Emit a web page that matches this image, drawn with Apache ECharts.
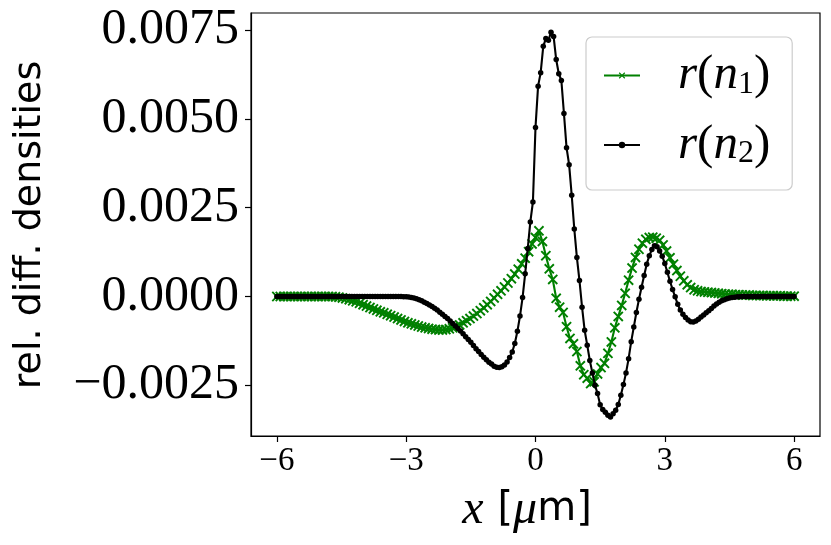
<!DOCTYPE html>
<html lang="en">
<head>
<meta charset="UTF-8">
<title>rel. diff. densities</title>
<script src="https://cdn.jsdelivr.net/npm/echarts@6/dist/echarts.min.js"></script>
<style>
  html, body { margin: 0; padding: 0; background: #fff; }
  #chart { width: 831px; height: 545px; }
</style>
</head>
<body>
<div id="chart"></div>
<script>
// x grid of r(n1) (green crosses)
var xN1 = [
  -6,-5.92,-5.84,-5.76,-5.68,-5.6,-5.52,-5.44,-5.36,-5.28,
  -5.2,-5.12,-5.04,-4.96,-4.88,-4.8,-4.72,-4.64,-4.56,-4.48,
  -4.4,-4.32,-4.24,-4.16,-4.08,-4,-3.92,-3.84,-3.76,-3.68,
  -3.6,-3.52,-3.44,-3.36,-3.28,-3.2,-3.12,-3.04,-2.96,-2.88,
  -2.8,-2.72,-2.64,-2.56,-2.48,-2.4,-2.32,-2.24,-2.16,-2.08,
  -2,-1.92,-1.84,-1.76,-1.68,-1.6,-1.52,-1.44,-1.36,-1.28,
  -1.2,-1.12,-1.04,-0.96,-0.88,-0.8,-0.72,-0.64,-0.56,-0.48,
  -0.4,-0.32,-0.24,-0.16,-0.08,0,0.08,0.16,0.24,0.32,
  0.4,0.48,0.56,0.64,0.72,0.8,0.88,0.96,1.04,1.12,
  1.2,1.28,1.36,1.44,1.52,1.6,1.68,1.76,1.84,1.92,
  2,2.08,2.16,2.24,2.32,2.4,2.48,2.56,2.64,2.72,
  2.8,2.88,2.96,3.04,3.12,3.2,3.28,3.36,3.44,3.52,
  3.6,3.68,3.76,3.84,3.92,4,4.08,4.16,4.24,4.32,
  4.4,4.48,4.56,4.64,4.72,4.8,4.88,4.96,5.04,5.12,
  5.2,5.28,5.36,5.44,5.52,5.6,5.68,5.76,5.84,5.92,
  6
];
var rN1 = [
  0,0,0,0,0,0,0,0,0,0,
  0,0,0,0,0,0,0,-0.1e-4,-0.2e-4,-0.4e-4,
  -0.6e-4,-0.9e-4,-1.2e-4,-1.5e-4,-1.9e-4,-2.3e-4,-2.7e-4,-3.1e-4,-3.5e-4,-3.9e-4,
  -4.3e-4,-4.6e-4,-5.0e-4,-5.4e-4,-5.8e-4,-6.2e-4,-6.6e-4,-7.0e-4,-7.4e-4,-7.7e-4,
  -8.0e-4,-8.3e-4,-8.6e-4,-8.8e-4,-9.0e-4,-9.2e-4,-9.3e-4,-9.4e-4,-9.4e-4,-9.3e-4,
  -9.1e-4,-8.8e-4,-8.4e-4,-8.0e-4,-7.4e-4,-6.8e-4,-6.2e-4,-5.5e-4,-4.8e-4,-4.0e-4,
  -3.2e-4,-2.3e-4,-1.4e-4,-0.4e-4,0.6e-4,1.6e-4,2.7e-4,3.8e-4,5.0e-4,6.3e-4,
  7.7e-4,9.2e-4,10.8e-4,12.6e-4,14.8e-4,16.6e-4,18.5e-4,15.5e-4,11.5e-4,7.8e-4,
  4.8e-4,-0.5e-4,-3.0e-4,-4.5e-4,-8.5e-4,-11.8e-4,-13.3e-4,-15.5e-4,-19.5e-4,-22.0e-4,
  -23.0e-4,-24.5e-4,-24.0e-4,-21.8e-4,-20.0e-4,-18.8e-4,-16.0e-4,-12.8e-4,-8.8e-4,-5.6e-4,
  -2.5e-4,0.9e-4,4.6e-4,8.0e-4,11.0e-4,13.3e-4,15.0e-4,16.1e-4,16.6e-4,16.7e-4,
  16.4e-4,15.8e-4,14.5e-4,12.8e-4,10.9e-4,9.1e-4,7.3e-4,5.7e-4,4.4e-4,3.3e-4,
  2.5e-4,1.9e-4,1.6e-4,1.4e-4,1.3e-4,1.2e-4,1.1e-4,1.0e-4,0.9e-4,0.8e-4,
  0.7e-4,0.6e-4,0.6e-4,0.5e-4,0.5e-4,0.4e-4,0.4e-4,0.4e-4,0.3e-4,0.3e-4,
  0.3e-4,0.3e-4,0.2e-4,0.2e-4,0.2e-4,0.2e-4,0.2e-4,0.1e-4,0.1e-4,0.1e-4,
  0.1e-4
];

// x grid of r(n2) (black dots)
var xN2 = [
  -6,-5.94,-5.88,-5.82,-5.76,-5.7,-5.64,-5.58,-5.52,-5.46,
  -5.4,-5.34,-5.28,-5.22,-5.16,-5.1,-5.04,-4.98,-4.92,-4.86,
  -4.8,-4.74,-4.68,-4.62,-4.56,-4.5,-4.44,-4.38,-4.32,-4.26,
  -4.2,-4.14,-4.08,-4.02,-3.96,-3.9,-3.84,-3.78,-3.72,-3.66,
  -3.6,-3.54,-3.48,-3.42,-3.36,-3.3,-3.24,-3.18,-3.12,-3.06,
  -3,-2.94,-2.88,-2.82,-2.76,-2.7,-2.64,-2.58,-2.52,-2.46,
  -2.4,-2.34,-2.28,-2.22,-2.16,-2.1,-2.04,-1.98,-1.92,-1.86,
  -1.8,-1.74,-1.68,-1.62,-1.56,-1.5,-1.44,-1.38,-1.32,-1.26,
  -1.2,-1.14,-1.08,-1.02,-0.96,-0.9,-0.84,-0.78,-0.72,-0.66,
  -0.6,-0.54,-0.48,-0.42,-0.36,-0.3,-0.24,-0.18,-0.12,-0.06,
  0,0.06,0.12,0.18,0.24,0.3,0.36,0.42,0.48,0.54,
  0.6,0.66,0.72,0.78,0.84,0.9,0.96,1.02,1.08,1.14,
  1.2,1.26,1.32,1.38,1.44,1.5,1.56,1.62,1.68,1.74,
  1.8,1.86,1.92,1.98,2.04,2.1,2.16,2.22,2.28,2.34,
  2.4,2.46,2.52,2.58,2.64,2.7,2.76,2.82,2.88,2.94,
  3,3.06,3.12,3.18,3.24,3.3,3.36,3.42,3.48,3.54,
  3.6,3.66,3.72,3.78,3.84,3.9,3.96,4.02,4.08,4.14,
  4.2,4.26,4.32,4.38,4.44,4.5,4.56,4.62,4.68,4.74,
  4.8,4.86,4.92,4.98,5.04,5.1,5.16,5.22,5.28,5.34,
  5.4,5.46,5.52,5.58,5.64,5.7,5.76,5.82,5.88,5.94,
  6
];
var rN2 = [
  0,0,0,0,0,0,0,0,0,0,
  0,0,0,0,0,0,0,0,0,0,
  0,0,0,0,0,0,0,0,0,0,
  0,0,0,0,0,0,0,0,0,0,
  0,0,0,0,0,0,0,0,0,-0.05e-4,
  -0.1e-4,-0.15e-4,-0.25e-4,-0.4e-4,-0.6e-4,-0.9e-4,-1.2e-4,-1.6e-4,-2.0e-4,-2.4e-4,
  -2.8e-4,-3.3e-4,-3.8e-4,-4.4e-4,-5.0e-4,-5.6e-4,-6.2e-4,-6.9e-4,-7.6e-4,-8.3e-4,
  -9.0e-4,-9.7e-4,-10.5e-4,-11.3e-4,-12.1e-4,-12.9e-4,-13.8e-4,-14.7e-4,-15.5e-4,-16.3e-4,
  -17.1e-4,-17.8e-4,-18.5e-4,-19.0e-4,-19.6e-4,-19.9e-4,-20.0e-4,-19.8e-4,-19.3e-4,-18.4e-4,
  -17.2e-4,-15.6e-4,-13.2e-4,-9.8e-4,-5.5e-4,-0.3e-4,6.4e-4,13.5e-4,21.0e-4,26.6e-4,
  47.6e-4,59.2e-4,63.0e-4,70.4e-4,72.6e-4,72.1e-4,74.4e-4,73.2e-4,66.7e-4,62.7e-4,
  60.8e-4,51.5e-4,41.9e-4,37.1e-4,28.5e-4,19.0e-4,11.0e-4,4.5e-4,-3.0e-4,-9.5e-4,
  -13.7e-4,-18.0e-4,-21.5e-4,-25.0e-4,-27.3e-4,-30.5e-4,-31.8e-4,-32.6e-4,-33.4e-4,-33.9e-4,
  -33.0e-4,-32.0e-4,-30.4e-4,-27.8e-4,-24.8e-4,-21.5e-4,-17.5e-4,-12.7e-4,-8.6e-4,-4.5e-4,
  -0.8e-4,2.6e-4,5.9e-4,9.1e-4,11.5e-4,13.2e-4,14.3e-4,14.0e-4,12.8e-4,11.3e-4,
  9.3e-4,6.8e-4,4.3e-4,2.0e-4,-0.1e-4,-2.2e-4,-3.8e-4,-5.0e-4,-5.9e-4,-6.6e-4,
  -7.1e-4,-7.2e-4,-6.9e-4,-6.4e-4,-5.8e-4,-5.2e-4,-4.6e-4,-4.0e-4,-3.4e-4,-2.7e-4,
  -2.1e-4,-1.6e-4,-1.2e-4,-0.9e-4,-0.6e-4,-0.4e-4,-0.3e-4,-0.2e-4,-0.1e-4,-0.05e-4,
  0,0,0,0,0,0,0,0,0,0,
  0,0,0,0,0,0,0,0,0,0,
  0
];

var xTicks = [-6, -3, 0, 3, 6];
var yTicks = [-0.0025, 0, 0.0025, 0.005, 0.0075];

function pairs(xs, ys) {
  return xs.map(function (x, i) { return [x, ys[i]]; });
}

var crossPath = 'path://M0,1.3L1.3,0L5,3.7L8.7,0L10,1.3L6.3,5L10,8.7L8.7,10L5,6.3L1.3,10L0,8.7L3.7,5Z';
var serif = 'Liberation Serif';

var myChart = echarts.init(document.getElementById('chart'), null, { renderer: 'canvas' });
var option = {
  animation: false,
  backgroundColor: '#ffffff',
  grid: { left: 251, right: 11, top: 13, bottom: 109, show: true, borderColor: '#000', borderWidth: 1.2 },
  xAxis: {
    type: 'value', min: -6.6, max: 6.6,
    axisLine: { show: true, onZero: false, lineStyle: { color: '#000', width: 1.2 } },
    axisTick: { show: true, inside: false, length: 6, customValues: xTicks, lineStyle: { color: '#000', width: 1.2 } },
    axisLabel: { customValues: xTicks, margin: 9, color: '#000', fontFamily: serif, fontSize: 33,
      formatter: function (v) { return (v < 0 ? '\u2212' : '') + Math.abs(v); } },
    splitLine: { show: false }
  },
  yAxis: {
    type: 'value', min: -0.003926, max: 0.007979,
    axisLine: { show: true, onZero: false, lineStyle: { color: '#000', width: 1.2 } },
    axisTick: { show: true, inside: false, length: 6, customValues: yTicks, lineStyle: { color: '#000', width: 1.2 } },
    axisLabel: { customValues: yTicks, margin: 12, color: '#000', fontFamily: serif, fontSize: 50,
      formatter: function (v) { return (v < 0 ? '\u2212' : '') + Math.abs(v).toFixed(4); } },
    splitLine: { show: false }
  },
  legend: {
    orient: 'vertical', left: 586, top: 37,
    padding: [14, 22, 20, 17], itemGap: 20, itemWidth: 36, itemHeight: 8,
    backgroundColor: 'rgba(255,255,255,0.8)', borderColor: '#cccccc', borderWidth: 1.2, borderRadius: 6,
    data: ['n1', 'n2'],
    formatter: function (name) {
      var k = name === 'n1' ? '1' : '2';
      return '{sp|}{it|r}{rm|(}{it|n}{sub|' + k + '}{rm|)}';
    },
    textStyle: {
      color: '#000',
      rich: {
        sp: { width: 33 },
        it: { fontFamily: serif, fontStyle: 'italic', fontSize: 49, lineHeight: 50 },
        rm: { fontFamily: serif, fontSize: 49, lineHeight: 50 },
        sub: { fontFamily: serif, fontSize: 32, lineHeight: 24, verticalAlign: 'bottom' }
      }
    }
  },
  graphic: [
    {
      type: 'text', x: 30, y: 225, rotation: Math.PI / 2,
      style: { text: 'rel. diff. densities', font: '38px "DejaVu Sans"', fill: '#000', align: 'center', verticalAlign: 'middle' }
    },
    {
      type: 'text', x: 527, y: 510,
      style: {
        text: '{it|x}{sp|}{rm|[}{it|\u03bc}{rm|m]}', fill: '#000', align: 'center', verticalAlign: 'middle',
        rich: {
          sp: { width: 14 },
          it: { fontFamily: serif, fontStyle: 'italic', fontSize: 48 },
          rm: { fontFamily: 'DejaVu Sans', fontSize: 40 }
        }
      }
    }
  ],
  series: [
    {
      name: 'n1', type: 'line', data: pairs(xN1, rN1),
      symbol: crossPath, symbolSize: 10.5, showSymbol: true,
      lineStyle: { color: '#008000', width: 2.1 },
      itemStyle: { color: '#008000' },
      z: 2
    },
    {
      name: 'n2', type: 'line', data: pairs(xN2, rN2),
      symbol: 'circle', symbolSize: 5.5, showSymbol: true,
      lineStyle: { color: '#000000', width: 2.1 },
      itemStyle: { color: '#000000' },
      z: 3
    }
  ]
};
myChart.setOption(option);
</script>
</body>
</html>
